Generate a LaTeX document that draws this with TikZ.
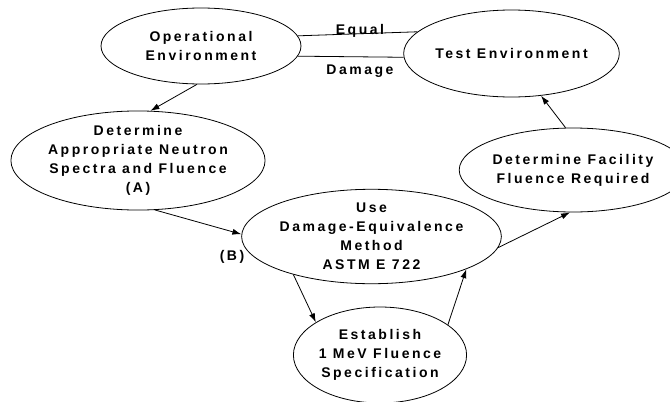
\documentclass[tikz,border=0pt]{standalone}
\usepackage{fontspec}
\setsansfont{Liberation Sans}[LetterSpace=18]
\usetikzlibrary{arrows.meta, shapes.geometric, positioning}

\tikzset{
    stage/.style={ellipse, draw, line width=0.8pt, inner sep=0pt, align=center,
        font=\sffamily\bfseries\fontsize{14}{19}\selectfont},
    tag/.style={inner sep=0pt, font=\sffamily\bfseries\fontsize{14}{19}\selectfont},
    flow/.style={line width=0.8pt, -{Latex[length=9pt,width=6pt]}},
    link/.style={line width=0.8pt}
}

\begin{document}
\begin{tikzpicture}[x=1pt, y=-1pt]
            \useasboundingbox (0,0) rectangle (670,402);

            % First, locate each of the ellipses and name them
            \node [stage, minimum width=200pt, minimum height=76pt] (operational) at (201,46) {Operational\\Environment};
            \node [stage, minimum width=183pt, minimum height=87pt] (test) at (511.5,53.5) {Test Environment};

            \node [stage, minimum width=250pt, minimum height=85pt] (spectra) at (138,160.5) {Determine\\Appropriate Neutron\\Spectra and Fluence\\(A)};
            \node [stage, minimum width=247pt, minimum height=93pt] (method) at (371.5,236.5) {Use\\Damage-Equivalence\\Method\\ASTM E 722};
            \node [stage, minimum width=183pt, minimum height=84pt] (facility) at (573,170) {Determine Facility\\Fluence Required};
            \node [stage, minimum width=164pt, minimum height=96pt] (establish) at (380,355) {Establish\\1 MeV Fluence\\Specification};

            % Labels
            \node [tag, anchor=base] (equal) at (360,34) {Equal};
            \node [tag, anchor=base] (damage) at (360,74) {Damage};
            \node [tag] (labelB) at (232,257) {(B)};

            % Equal damage between the two environments
            \draw [link] (operational.6.6) -- (test.167.4);
            \draw [link] (operational.-6.6) -- (test.182.2);

            % Now draw the arrows:
            \draw [flow] (operational.-96) -- (spectra.76.8);
            \draw [flow] (spectra.-71.8) -- (method.179.3);
            \draw [flow] (method.-154) -- (establish.153.8);
            \draw [flow] (establish.24.6) -- (method.-19.8);
            \draw [flow] (method.-5.3) -- (facility.-94);
            \draw [flow] (facility.100.5) -- (test.-55.6);
        \end{tikzpicture}
\end{document}
